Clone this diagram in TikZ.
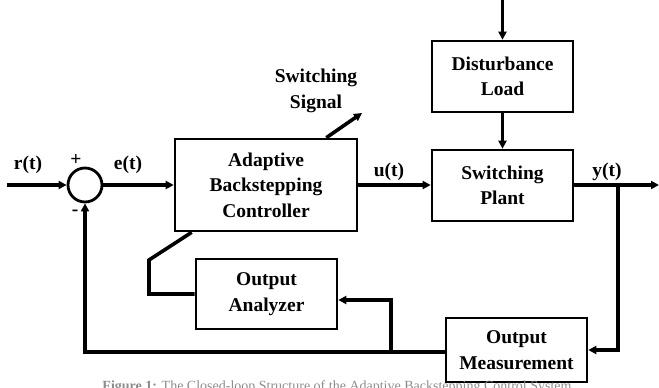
\documentclass[tikz,border=0pt]{standalone}
\usepackage{fontspec}
\setmainfont{Liberation Serif}
\usetikzlibrary{arrows.meta}
\begin{document}
\begin{tikzpicture}[x=1pt,y=-1pt,
  blk/.style={draw,line width=2.6pt,minimum width=141pt,minimum height=71pt,inner sep=0pt,align=center,font=\bfseries\fontsize{19.5}{25.5}\selectfont},
  lbl/.style={font=\bfseries\fontsize{19.5}{25.5}\selectfont,inner sep=0pt},
  wire/.style={line width=3.6pt},
  arr/.style={wire,-{Triangle[length=8pt,width=8pt]}}]
\useasboundingbox (0,0) rectangle (659,388);
% blocks
\node[blk,minimum width=182pt,minimum height=92pt] (ctrl) at (266,185) {Adaptive\\Backstepping\\Controller};
\node[blk] (dist) at (502.5,76.5) {Disturbance\\Load};
\node[blk] (plant) at (502.5,185.5) {Switching\\Plant};
\node[blk,minimum height=70pt] (ana) at (266.5,294) {Output\\Analyzer};
\node[blk,minimum height=64pt] (meas) at (516.5,350) {Output\\Measurement};
\node[draw,circle,line width=2.8pt,minimum size=34pt,inner sep=0pt] (sum) at (85,185) {};
% coordinates
\coordinate (in) at (7,185);
\coordinate (out) at (659,185);
\coordinate (top) at (502.5,0);
\coordinate (br) at (618,185);
\coordinate (j1) at (391,352);
\coordinate (j2) at (391,300);
\coordinate (k1) at (149,260);
\coordinate (ss) at (362,113);
% labels
\node[lbl,anchor=base] (rl) at (28,169) {r(t)};
\node[lbl,anchor=base] (el) at (128,169) {e(t)};
\node[lbl] (pl) at (76,160) {+};
\node[lbl] (ml) at (75,213) {-};
\node[lbl,anchor=base] (ul) at (389,176) {u(t)};
\node[lbl,anchor=base] (yl) at (607,176) {y(t)};
\node[lbl,align=center] (sw) at (316,91) {Switching\\Signal};
% connectors
\draw[arr] (in) -- (sum.west);
\draw[arr] (sum.east) -- (ctrl.west);
\draw[arr] (ctrl.east) -- (plant.west |- ctrl.east);
\draw[arr] (top) -- (dist.north);
\draw[arr] (dist.south) -- (plant.north);
\draw[arr] (plant.east |- br) -- (out);
\draw[arr] (br) |- (meas.east);
\draw[arr] (meas.west |- j1) -| (sum.south);
\draw[arr] (j1) -- (j2) -- (j2 -| ana.east);
\draw[wire] ([xshift=18pt]ctrl.south west) -- (k1) -- (k1 |- ana.west) -- (ana.west);
\draw[arr] ([xshift=-32pt]ctrl.north east) -- (ss);
% caption (cut off at the bottom of the picture, as in the reference)
\begin{scope}
\clip (0,0) rectangle (659,388);
\node[anchor=base,text=black!45,font=\fontsize{14}{17}\selectfont,inner sep=0pt] (cap) at (337,390) {\textbf{Figure 1:} The Closed-loop Structure of the Adaptive Backstepping Control System};
\end{scope}
\end{tikzpicture}
\end{document}
